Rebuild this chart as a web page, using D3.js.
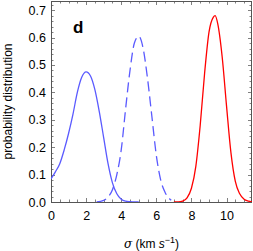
<!DOCTYPE html>
<html><head><meta charset="utf-8">
<script src="https://cdn.jsdelivr.net/npm/d3@7"></script>
<style>
html,body{margin:0;padding:0;background:#fff;}
svg{display:block;}
text{font-family:"Liberation Sans",Arial,Helvetica,sans-serif;fill:#000;}
</style></head>
<body>
<script>
// ---- data ----
const blueSolidX = [0, 0.25, 0.5, 0.75, 1.0, 1.25, 1.5, 1.75, 2.0, 2.25, 2.5, 2.75, 3.0, 3.25, 3.5, 3.75, 4.0, 4.25, 4.5, 4.75, 5.0];
const blueSolidY = [0.084, 0.11, 0.14, 0.19, 0.25, 0.32, 0.40, 0.455, 0.475, 0.46, 0.41, 0.33, 0.235, 0.14, 0.07, 0.03, 0.01, 0.003, 0.001, 0, 0];

const blueDashX = [2.6, 3.0, 3.25, 3.5, 3.75, 4.0, 4.25, 4.5, 4.75, 5.0, 5.25, 5.5, 5.75, 6.0, 6.25, 6.5, 6.75, 6.85];
const blueDashY = [0.0, 0.006, 0.018, 0.045, 0.10, 0.19, 0.34, 0.48, 0.58, 0.605, 0.56, 0.45, 0.31, 0.17, 0.08, 0.035, 0.012, 0.006];

const redX = [7.0, 7.25, 7.5, 7.75, 8.0, 8.25, 8.5, 8.75, 9.0, 9.25, 9.35, 9.5, 9.75, 10.0, 10.25, 10.5, 10.75, 11.0, 11.25, 11.45];
const redY = [0.0, 0.0, 0.003, 0.015, 0.05, 0.13, 0.28, 0.47, 0.62, 0.675, 0.68, 0.65, 0.53, 0.35, 0.18, 0.075, 0.03, 0.01, 0.003, 0.0];

const xTicks = [0, 2, 4, 6, 8, 10];
const yTicks = [0.0, 0.1, 0.2, 0.3, 0.4, 0.5, 0.6, 0.7];
const panelLabel = "d";
const yLabel = "probability distribution";

// ---- layout ----
const W = 253, H = 251;
const L = 51, R = 252, T = 1, B = 202;

const svg = d3.select("body").append("svg").attr("width", W).attr("height", H);
const x = d3.scaleLinear().domain([0, 11.45]).range([L, R]);
const y = d3.scaleLinear().domain([0, 0.7335]).range([B, T]);

svg.append("defs").append("clipPath").attr("id", "clip")
  .append("rect").attr("x", L).attr("y", T).attr("width", R - L).attr("height", B - T);

// ticks
const tickCol = "#808080";
const xMinor = d3.range(0, 11.45, 0.5);
const yMinor = d3.range(0, 0.7335, 0.02);
const isMajorX = v => Math.abs(v / 2 - Math.round(v / 2)) < 1e-6;
const isMajorY = v => Math.abs(v * 10 - Math.round(v * 10)) < 1e-6;

const tg = svg.append("g").attr("stroke", tickCol).attr("stroke-width", 1);
xMinor.forEach(v => {
  const len = isMajorX(v) ? 4 : 2.5;
  const px = Math.round(x(v)) + 0.5;
  tg.append("line").attr("x1", px).attr("x2", px).attr("y1", B).attr("y2", B - len);
  tg.append("line").attr("x1", px).attr("x2", px).attr("y1", T).attr("y2", T + len);
});
yMinor.forEach(v => {
  const len = isMajorY(v) ? 4 : 2.5;
  const py = Math.round(y(v)) + 0.5;
  tg.append("line").attr("y1", py).attr("y2", py).attr("x1", L).attr("x2", L + len);
  tg.append("line").attr("y1", py).attr("y2", py).attr("x1", R).attr("x2", R - len);
});

// frame
svg.append("rect").attr("x", L + 0.5).attr("y", T + 0.5).attr("width", R - L - 1).attr("height", B - T)
  .attr("fill", "none").attr("stroke", "#555").attr("stroke-width", 1);

// tick labels via axes (no lines)
const xAxis = svg.append("g").attr("transform", `translate(0,${B})`)
  .call(d3.axisBottom(x).tickValues(xTicks).tickSize(0).tickPadding(9).tickFormat(d3.format("d")));
const yAxis = svg.append("g").attr("transform", `translate(${L},0)`)
  .call(d3.axisLeft(y).tickValues(yTicks).tickSize(0).tickPadding(5).tickFormat(d3.format(".1f")));
[xAxis, yAxis].forEach(g => {
  g.select(".domain").remove();
  g.selectAll("text").attr("font-size", 12.5).attr("font-family", '"Liberation Sans",Arial,sans-serif').attr("fill", "#000");
});

// curves
const line = d3.line().x(d => x(d[0])).y(d => y(d[1])).curve(d3.curveMonotoneX);
const cg = svg.append("g").attr("clip-path", "url(#clip)").attr("fill", "none").attr("stroke-width", 1.3);
cg.append("path").datum(d3.zip(blueSolidX, blueSolidY)).attr("d", line).attr("stroke", "#5a5aff");
cg.append("path").datum(d3.zip(blueDashX, blueDashY)).attr("d", line).attr("stroke", "#5a5aff").attr("stroke-dasharray", "10,5");
cg.append("path").datum(d3.zip(redX, redY)).attr("d", line).attr("stroke", "#ff0000");

// panel label
svg.append("text").attr("x", 73).attr("y", 33).attr("font-size", 17).attr("font-weight", "bold").text(panelLabel);

// y label
svg.append("text").attr("transform", `translate(12,${(T + B) / 2}) rotate(-90)`)
  .attr("text-anchor", "middle").attr("font-size", 12).text(yLabel);

// x label
const xl = svg.append("text").attr("x", (L + R) / 2).attr("y", 248).attr("text-anchor", "middle").attr("font-size", 12);
xl.append("tspan").attr("font-family", '"DejaVu Serif",serif').attr("font-style", "italic").text("σ");
xl.append("tspan").text(" (km ");
xl.append("tspan").attr("font-style", "italic").text("s");
xl.append("tspan").attr("dy", -5).attr("font-size", 9).text("−1");
xl.append("tspan").attr("dy", 5).text(")");
</script>
</body></html>
